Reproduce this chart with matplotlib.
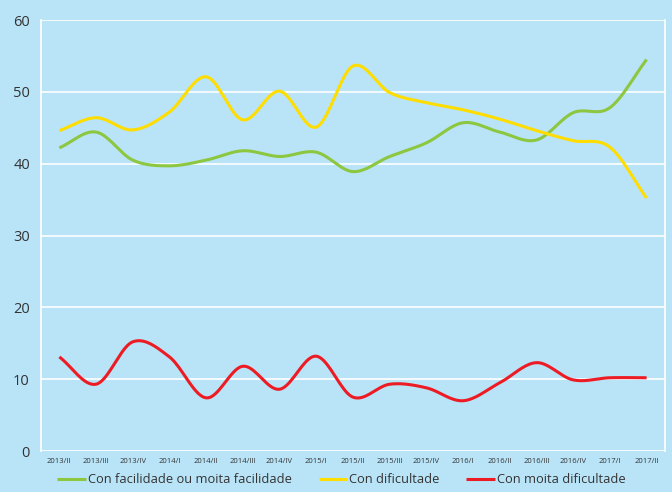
import numpy as np
import matplotlib.pyplot as plt

periods = ['2013/II', '2013/III', '2013/IV', '2014/I', '2014/II', '2014/III', '2014/IV',
           '2015/I', '2015/II', '2015/III', '2015/IV', '2016/I', '2016/II', '2016/III',
           '2016/IV', '2017/I', '2017/II']
facilidade = [42.2, 44.4, 40.5, 39.7, 40.5, 41.8, 41.0, 41.6, 38.9, 41.0, 42.9, 45.7, 44.4,
              43.3, 47.1, 47.8, 54.5]
dificultade = [44.6, 46.4, 44.7, 47.2, 52.1, 46.1, 50.1, 45.1, 53.6, 49.9, 48.5, 47.5, 46.2,
               44.6, 43.2, 42.3, 35.2]
moita_dificultade = [13.1, 9.3, 15.2, 13.1, 7.4, 11.8, 8.6, 13.2, 7.5, 9.3, 8.8, 7.0, 9.5,
                     12.3, 9.9, 10.2, 10.2]

bg = '#b9e4f7'


def smooth(y, n=20):
    #Catmull-Rom style smoothing like Excel's smoothed lines
    y = np.asarray(y, dtype=float)
    x = np.arange(len(y), dtype=float)
    px = np.concatenate([[2 * x[0] - x[1]], x, [2 * x[-1] - x[-2]]])
    py = np.concatenate([[2 * y[0] - y[1]], y, [2 * y[-1] - y[-2]]])
    xs, ys = [], []
    t = np.linspace(0, 1, n, endpoint=False)
    for i in range(1, len(px) - 2):
        for p, out in ((px, xs), (py, ys)):
            p0, p1, p2, p3 = p[i - 1], p[i], p[i + 1], p[i + 2]
            out.extend(0.5 * (2 * p1 + (-p0 + p2) * t + (2 * p0 - 5 * p1 + 4 * p2 - p3) * t ** 2
                              + (-p0 + 3 * p1 - 3 * p2 + p3) * t ** 3))
    xs.append(x[-1])
    ys.append(y[-1])
    return np.array(xs), np.array(ys)


plt.rcParams['font.family'] = ['Open Sans', 'DejaVu Sans']

fig = plt.figure(figsize=(6.72, 4.92), dpi=100, facecolor=bg)
ax = fig.add_axes([0.061, 0.0833, 0.9285, 0.876], facecolor=bg)

series = [(facilidade, '#8dc63f', 'Con facilidade ou moita facilidade'),
          (dificultade, '#ffdd00', 'Con dificultade'),
          (moita_dificultade, '#ed1c24', 'Con moita dificultade')]
for vals, col, lab in series:
    sx, sy = smooth(vals)
    ax.plot(sx, sy, color=col, lw=2.2, label=lab, solid_capstyle='butt')

ax.set_xlim(-0.5, len(periods) - 0.5)
ax.set_ylim(0, 60)
ax.set_yticks(range(0, 61, 10))
ax.set_xticks(range(len(periods)))
ax.set_xticklabels(periods, fontsize=5.5, color='#333333')
ax.tick_params(axis='y', labelsize=10.5, colors='#333333', length=0, pad=8)
ax.tick_params(axis='x', length=0, pad=5)
ax.grid(axis='y', color='white', lw=1.2)
ax.set_axisbelow(True)
for s in ['top', 'bottom']:
    ax.spines[s].set_visible(False)
for s in ['left', 'right']:
    ax.spines[s].set_color('white')
    ax.spines[s].set_linewidth(1.2)

fig.legend(loc='lower center', bbox_to_anchor=(0.508, -0.012), ncol=3, frameon=False,
           fontsize=9.3, handlelength=2.2, handletextpad=0.15, columnspacing=2.1,
           labelcolor='#333333')

plt.savefig('out.png', dpi=100, facecolor=bg)
